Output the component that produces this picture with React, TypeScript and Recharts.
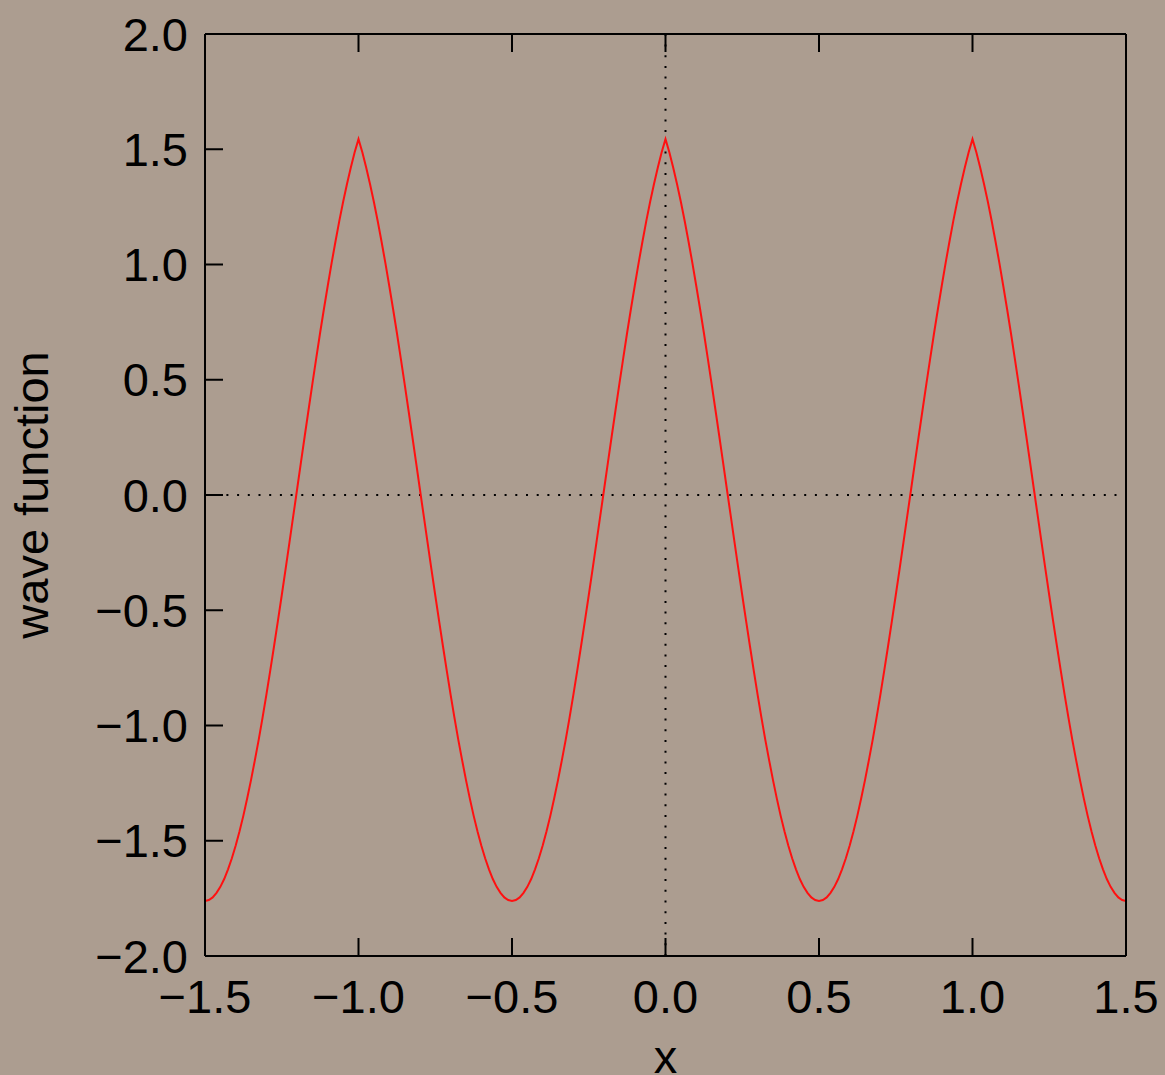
import { LineChart, Line, XAxis, YAxis, ReferenceLine, Label } from 'recharts';

// sample positions along x (one row = 0.1)
const X_VALUES = [
  -1.5, -1.4875, -1.475, -1.4625, -1.45, -1.4375, -1.425, -1.4125,
  -1.4, -1.3875, -1.375, -1.3625, -1.35, -1.3375, -1.325, -1.3125,
  -1.3, -1.2875, -1.275, -1.2625, -1.25, -1.2375, -1.225, -1.2125,
  -1.2, -1.1875, -1.175, -1.1625, -1.15, -1.1375, -1.125, -1.1125,
  -1.1, -1.0875, -1.075, -1.0625, -1.05, -1.0375, -1.025, -1.0125,
  -1.0, -0.9875, -0.975, -0.9625, -0.95, -0.9375, -0.925, -0.9125,
  -0.9, -0.8875, -0.875, -0.8625, -0.85, -0.8375, -0.825, -0.8125,
  -0.8, -0.7875, -0.775, -0.7625, -0.75, -0.7375, -0.725, -0.7125,
  -0.7, -0.6875, -0.675, -0.6625, -0.65, -0.6375, -0.625, -0.6125,
  -0.6, -0.5875, -0.575, -0.5625, -0.55, -0.5375, -0.525, -0.5125,
  -0.5, -0.4875, -0.475, -0.4625, -0.45, -0.4375, -0.425, -0.4125,
  -0.4, -0.3875, -0.375, -0.3625, -0.35, -0.3375, -0.325, -0.3125,
  -0.3, -0.2875, -0.275, -0.2625, -0.25, -0.2375, -0.225, -0.2125,
  -0.2, -0.1875, -0.175, -0.1625, -0.15, -0.1375, -0.125, -0.1125,
  -0.1, -0.0875, -0.075, -0.0625, -0.05, -0.0375, -0.025, -0.0125,
  0.0, 0.0125, 0.025, 0.0375, 0.05, 0.0625, 0.075, 0.0875,
  0.1, 0.1125, 0.125, 0.1375, 0.15, 0.1625, 0.175, 0.1875,
  0.2, 0.2125, 0.225, 0.2375, 0.25, 0.2625, 0.275, 0.2875,
  0.3, 0.3125, 0.325, 0.3375, 0.35, 0.3625, 0.375, 0.3875,
  0.4, 0.4125, 0.425, 0.4375, 0.45, 0.4625, 0.475, 0.4875,
  0.5, 0.5125, 0.525, 0.5375, 0.55, 0.5625, 0.575, 0.5875,
  0.6, 0.6125, 0.625, 0.6375, 0.65, 0.6625, 0.675, 0.6875,
  0.7, 0.7125, 0.725, 0.7375, 0.75, 0.7625, 0.775, 0.7875,
  0.8, 0.8125, 0.825, 0.8375, 0.85, 0.8625, 0.875, 0.8875,
  0.9, 0.9125, 0.925, 0.9375, 0.95, 0.9625, 0.975, 0.9875,
  1.0, 1.0125, 1.025, 1.0375, 1.05, 1.0625, 1.075, 1.0875,
  1.1, 1.1125, 1.125, 1.1375, 1.15, 1.1625, 1.175, 1.1875,
  1.2, 1.2125, 1.225, 1.2375, 1.25, 1.2625, 1.275, 1.2875,
  1.3, 1.3125, 1.325, 1.3375, 1.35, 1.3625, 1.375, 1.3875,
  1.4, 1.4125, 1.425, 1.4375, 1.45, 1.4625, 1.475, 1.4875,
  1.5,
];

// wave function value at each sample
const PSI_VALUES = [
  -1.761, -1.757, -1.746, -1.726, -1.700, -1.666, -1.624, -1.576,
  -1.521, -1.459, -1.391, -1.316, -1.236, -1.150, -1.061, -0.966,
  -0.866, -0.762, -0.655, -0.546, -0.435, -0.322, -0.207, -0.091,
  0.025, 0.142, 0.257, 0.371, 0.484, 0.595, 0.704, 0.808,
  0.909, 1.007, 1.100, 1.189, 1.272, 1.349, 1.421, 1.487,
  1.544, 1.487, 1.421, 1.349, 1.272, 1.189, 1.100, 1.007,
  0.909, 0.808, 0.704, 0.595, 0.484, 0.371, 0.257, 0.142,
  0.025, -0.091, -0.207, -0.322, -0.435, -0.546, -0.655, -0.762,
  -0.866, -0.966, -1.061, -1.150, -1.236, -1.316, -1.391, -1.459,
  -1.521, -1.576, -1.624, -1.666, -1.700, -1.726, -1.746, -1.757,
  -1.761, -1.757, -1.746, -1.726, -1.700, -1.666, -1.624, -1.576,
  -1.521, -1.459, -1.391, -1.316, -1.236, -1.150, -1.061, -0.966,
  -0.866, -0.762, -0.655, -0.546, -0.435, -0.322, -0.207, -0.091,
  0.025, 0.142, 0.257, 0.371, 0.484, 0.595, 0.704, 0.808,
  0.909, 1.007, 1.100, 1.189, 1.272, 1.349, 1.421, 1.487,
  1.544, 1.487, 1.421, 1.349, 1.272, 1.189, 1.100, 1.007,
  0.909, 0.808, 0.704, 0.595, 0.484, 0.371, 0.257, 0.142,
  0.025, -0.091, -0.207, -0.322, -0.435, -0.546, -0.655, -0.762,
  -0.866, -0.966, -1.061, -1.150, -1.236, -1.316, -1.391, -1.459,
  -1.521, -1.576, -1.624, -1.666, -1.700, -1.726, -1.746, -1.757,
  -1.761, -1.757, -1.746, -1.726, -1.700, -1.666, -1.624, -1.576,
  -1.521, -1.459, -1.391, -1.316, -1.236, -1.150, -1.061, -0.966,
  -0.866, -0.762, -0.655, -0.546, -0.435, -0.322, -0.207, -0.091,
  0.025, 0.142, 0.257, 0.371, 0.484, 0.595, 0.704, 0.808,
  0.909, 1.007, 1.100, 1.189, 1.272, 1.349, 1.421, 1.487,
  1.544, 1.487, 1.421, 1.349, 1.272, 1.189, 1.100, 1.007,
  0.909, 0.808, 0.704, 0.595, 0.484, 0.371, 0.257, 0.142,
  0.025, -0.091, -0.207, -0.322, -0.435, -0.546, -0.655, -0.762,
  -0.866, -0.966, -1.061, -1.150, -1.236, -1.316, -1.391, -1.459,
  -1.521, -1.576, -1.624, -1.666, -1.700, -1.726, -1.746, -1.757,
  -1.761,
];

const X_TICKS = [-1.5, -1.0, -0.5, 0.0, 0.5, 1.0, 1.5];
const Y_TICKS = [-2.0, -1.5, -1.0, -0.5, 0.0, 0.5, 1.0, 1.5, 2.0];

const data = X_VALUES.map((x, i) => ({ x, psi: PSI_VALUES[i] }));

const fmt = (v: number) => v.toFixed(1).replace('-', '\u2212');
const blank = () => '';

const FONT = '"Liberation Sans", Arial, Helvetica, sans-serif';
const tickStyle = { fontSize: 47, fill: '#000', fontFamily: FONT };
const lineStyle = { stroke: '#000', strokeWidth: 2 };

export default function App() {
  return (
    <div
      style={{
        position: 'fixed',
        inset: 0,
        background: '#ac9d90',
        fontFamily: FONT,
      }}
    >
      <LineChart
        width={1165}
        height={1075}
        data={data}
        margin={{ top: 33, right: 38, left: 0, bottom: 0 }}
      >
        <XAxis
          dataKey="x"
          type="number"
          domain={[-1.5, 1.5]}
          ticks={X_TICKS}
          interval={0}
          tickFormatter={fmt}
          height={119}
          tickSize={-18}
          tickMargin={42}
          axisLine={lineStyle}
          tickLine={lineStyle}
          tick={tickStyle}
        >
          <Label
            value="x"
            position="insideBottom"
            offset={2}
            style={{ fontSize: 47, fill: '#000', fontFamily: FONT }}
          />
        </XAxis>
        {/* mirrored frame on top and right, tick marks without labels */}
        <XAxis
          xAxisId="top"
          dataKey="x"
          type="number"
          orientation="top"
          domain={[-1.5, 1.5]}
          ticks={X_TICKS}
          interval={0}
          height={1}
          tickSize={-18}
          tickFormatter={blank}
          axisLine={lineStyle}
          tickLine={lineStyle}
          tick={tickStyle}
        />
        <YAxis
          type="number"
          domain={[-2, 2]}
          ticks={Y_TICKS}
          interval={0}
          tickFormatter={fmt}
          width={205}
          tickSize={-18}
          tickMargin={35}
          axisLine={lineStyle}
          tickLine={lineStyle}
          tick={tickStyle}
        >
          <Label
            value="wave function"
            position="center"
            angle={-90}
            dx={-71}
            style={{ fontSize: 47, fill: '#000', fontFamily: FONT, textAnchor: 'middle' }}
          />
        </YAxis>
        <YAxis
          yAxisId="right"
          type="number"
          orientation="right"
          domain={[-2, 2]}
          ticks={Y_TICKS}
          interval={0}
          width={1}
          tickSize={-18}
          tickFormatter={blank}
          axisLine={lineStyle}
          tickLine={lineStyle}
          tick={tickStyle}
        />
        <ReferenceLine x={0} stroke="#000" strokeWidth={2} strokeDasharray="2 8.7" />
        <ReferenceLine y={0} stroke="#000" strokeWidth={2} strokeDasharray="2 8.7" />
        <Line
          dataKey="psi"
          type="linear"
          stroke="#ff1010"
          strokeWidth={2}
          dot={false}
          isAnimationActive={false}
        />
      </LineChart>
    </div>
  );
}
